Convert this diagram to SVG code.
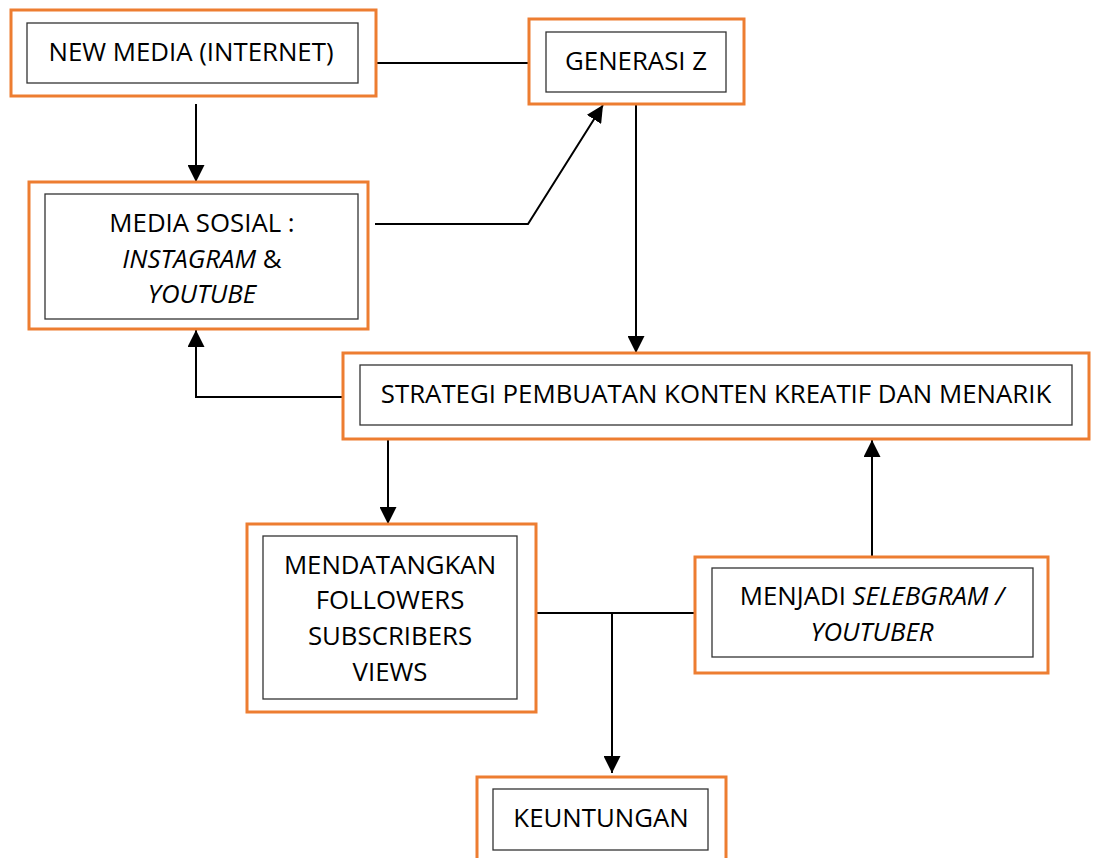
<svg xmlns="http://www.w3.org/2000/svg" width="1097" height="858" viewBox="0 0 1097 858">
  <style>
    .outer { fill: #ffffff; stroke: #ED7D31; stroke-width: 3; }
    .inner { fill: #ffffff; stroke: #333333; stroke-width: 1.3; }
    .t { font-family: "Open Sans", "Liberation Sans", sans-serif; font-size: 25.8px; fill: #000000; text-anchor: middle; }
    .i { font-style: italic; }
    .c { fill: none; stroke: #000000; stroke-width: 2; }
  </style>
  <defs>
    <marker id="ah" markerUnits="userSpaceOnUse" markerWidth="17" markerHeight="17" viewBox="0 0 17 17" refX="17" refY="8.5" orient="auto">
      <path d="M0,0 L17,8.5 L0,17 Z" fill="#000000"/>
    </marker>
  </defs>
  <rect width="1097" height="858" fill="#ffffff"/>

  <g id="connectors">
    <line class="c" x1="376" y1="63" x2="529" y2="63"/>
    <line class="c" x1="196" y1="104" x2="196" y2="182" marker-end="url(#ah)"/>
    <polyline class="c" points="375,224 528,224 603,105" marker-end="url(#ah)"/>
    <line class="c" x1="636" y1="105" x2="636" y2="353" marker-end="url(#ah)"/>
    <polyline class="c" points="343,397 196,397 196,330" marker-end="url(#ah)"/>
    <line class="c" x1="388" y1="439" x2="388" y2="524" marker-end="url(#ah)"/>
    <line class="c" x1="872" y1="557" x2="872" y2="440" marker-end="url(#ah)"/>
    <line class="c" x1="536" y1="613" x2="695" y2="613"/>
    <line class="c" x1="612" y1="613" x2="612" y2="773" marker-end="url(#ah)"/>
  </g>

  <g id="node-new-media">
    <rect class="outer" x="11" y="10" width="365" height="86"/>
    <rect class="inner" x="27" y="23" width="331" height="60"/>
    <text class="t" x="191" y="61">NEW MEDIA (INTERNET)</text>
  </g>

  <g id="node-generasi-z">
    <rect class="outer" x="529" y="19" width="215" height="85"/>
    <rect class="inner" x="546" y="32" width="180" height="60"/>
    <text class="t" x="636" y="70">GENERASI Z</text>
  </g>

  <g id="node-media-sosial">
    <rect class="outer" x="29" y="182" width="339" height="147"/>
    <rect class="inner" x="45" y="194" width="313" height="125"/>
    <text class="t" x="202" y="232">MEDIA SOSIAL :</text>
    <text class="t" x="202" y="268"><tspan class="i">INSTAGRAM</tspan> &amp;</text>
    <text class="t i" x="202" y="303">YOUTUBE</text>
  </g>

  <g id="node-strategi">
    <rect class="outer" x="343" y="353" width="746" height="86"/>
    <rect class="inner" x="360" y="365" width="712" height="60"/>
    <text class="t" x="716" y="403">STRATEGI PEMBUATAN KONTEN KREATIF DAN MENARIK</text>
  </g>

  <g id="node-mendatangkan">
    <rect class="outer" x="247" y="524" width="289" height="188"/>
    <rect class="inner" x="263" y="536" width="254" height="163"/>
    <text class="t" x="390" y="574">MENDATANGKAN</text>
    <text class="t" x="390" y="609">FOLLOWERS</text>
    <text class="t" x="390" y="645">SUBSCRIBERS</text>
    <text class="t" x="390" y="681">VIEWS</text>
  </g>

  <g id="node-menjadi">
    <rect class="outer" x="695" y="557" width="353" height="116"/>
    <rect class="inner" x="712" y="568" width="321" height="89"/>
    <text class="t" x="872" y="605">MENJADI <tspan class="i">SELEBGRAM /</tspan></text>
    <text class="t i" x="872" y="641">YOUTUBER</text>
  </g>

  <g id="node-keuntungan">
    <rect class="outer" x="477" y="777" width="249" height="100"/>
    <rect class="inner" x="493" y="789" width="215" height="61"/>
    <text class="t" x="601" y="827">KEUNTUNGAN</text>
  </g>
</svg>
